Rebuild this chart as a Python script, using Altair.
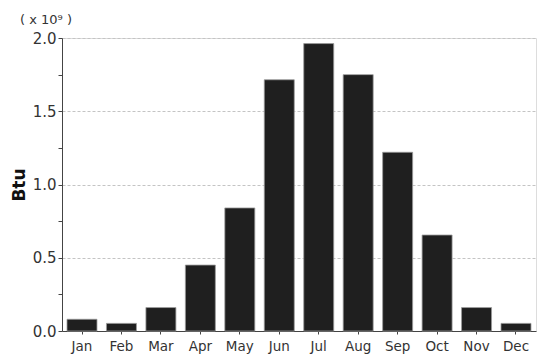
import altair as alt
import pandas as pd

months = ["Jan", "Feb", "Mar", "Apr", "May", "Jun", "Jul", "Aug", "Sep", "Oct", "Nov", "Dec"]
values = [0.08, 0.052, 0.16, 0.45, 0.84, 1.715, 1.962, 1.75, 1.22, 0.655, 0.16, 0.052]  # x 10^9 Btu
tick_values = [0, 0.25, 0.5, 0.75, 1.0, 1.25, 1.5, 1.75, 2.0]

df = pd.DataFrame({"month": months, "btu": values})

FONT = "DejaVu Sans"

bars = alt.Chart(df).mark_bar(color="#1f1f1f", stroke="#9a9a9a", strokeWidth=0.8).encode(
    x=alt.X("month:N", sort=months,
            scale=alt.Scale(paddingInner=0.24, paddingOuter=0.127),
            axis=alt.Axis(title=None, labelAngle=0, labelFontSize=13.5, labelFont=FONT,
                          labelColor="#333", domainColor="#444", tickColor="#444",
                          tickSize=3, labelPadding=5, grid=False)),
    y=alt.Y("btu:Q", scale=alt.Scale(domain=[0, 2.0], nice=False),
            axis=alt.Axis(title="Btu", titleFont=FONT, titleFontSize=17, titleFontWeight="bold",
                          titleColor="#111", titlePadding=4,
                          values=tick_values,
                          labelExpr="datum.value % 0.5 == 0 ? format(datum.value, '.1f') : ''",
                          labelFontSize=15, labelFont=FONT, labelColor="#333",
                          domainColor="#444", tickColor="#444", tickSize=4,
                          gridColor="#c4c4c4", gridDash=[3, 2],
                          gridOpacity=alt.ExprRef(expr="datum.value % 0.5 == 0 && datum.value > 0 ? 1 : 0"))),
)

exp_df = pd.DataFrame({"t": ["( x 10⁹ )"]})
exp_text = alt.Chart(exp_df).mark_text(align="left", baseline="alphabetic", fontSize=13,
                                       font=FONT, color="#333").encode(
    x=alt.value(-42), y=alt.value(-14), text="t:N")

chart = alt.layer(bars, exp_text).properties(
    width=474, height=293,
    autosize=alt.AutoSizeParams(type="none"),
    padding={"left": 54, "top": 30, "right": 6, "bottom": 24},
).configure_view(stroke=None).configure(background="white")

chart.save("out.html", embed_options={"renderer": "svg", "actions": False})
